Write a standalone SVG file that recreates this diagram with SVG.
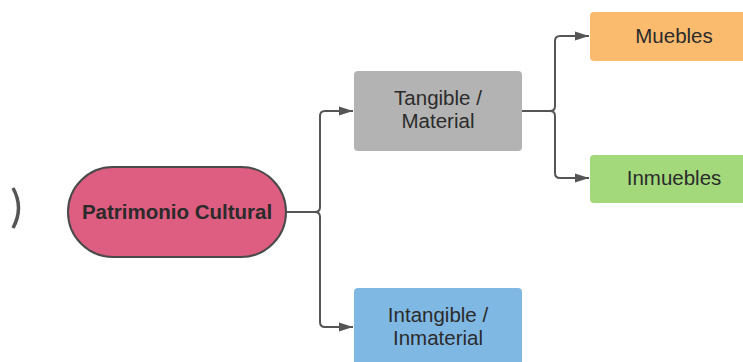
<svg xmlns="http://www.w3.org/2000/svg" width="743" height="362" viewBox="0 0 743 362">
<style>
.t{font-family:"Liberation Sans",Arial,sans-serif;font-size:20.5px;fill:#2b2b2b;text-anchor:middle;dominant-baseline:central}
.c{fill:none;stroke:#555;stroke-width:2}
.b{stroke:none}
</style>
<defs>
<marker id="a" viewBox="0 0 14 10" refX="14" refY="5" markerWidth="14" markerHeight="10" markerUnits="userSpaceOnUse" orient="auto"><path d="M0 0.5 L14 5 L0 9.5 Z" fill="#555"/></marker>
</defs>
<rect width="743" height="362" fill="#fff"/>
<g id="partial"><path d="M13 188 Q24 208 13 228" fill="none" stroke="#555" stroke-width="3.5"/></g>
<g id="connectors">
<path class="c" d="M286 212 H315 Q320 212 320 207 V116 Q320 111 325 111 H353" marker-end="url(#a)"/>
<path class="c" d="M315 212 Q320 212 320 217 V322 Q320 327 325 327 H353" marker-end="url(#a)"/>
<path class="c" d="M522 111 H550 Q555 111 555 106 V41 Q555 36 560 36 H589" marker-end="url(#a)"/>
<path class="c" d="M550 111 Q555 111 555 116 V173 Q555 178 560 178 H589" marker-end="url(#a)"/>
</g>
<g id="patrimonio"><rect x="68" y="167" width="218" height="90" rx="45" fill="#DD5E80" stroke="#4a4a4a" stroke-width="2"/><text class="t" x="177" y="211" font-weight="bold">Patrimonio Cultural</text></g>
<g id="tangible"><rect class="b" x="354" y="71" width="168" height="80" rx="4" fill="#B3B3B3"/><text class="t" x="438" y="97">Tangible /</text><text class="t" x="438" y="120">Material</text></g>
<g id="intangible"><rect class="b" x="354" y="288" width="168" height="80" rx="4" fill="#80B8E4"/><text class="t" x="438" y="314">Intangible /</text><text class="t" x="438" y="337">Inmaterial</text></g>
<g id="muebles"><rect class="b" x="590" y="12" width="160" height="49" rx="4" fill="#FBBB6E"/><text class="t" x="674" y="35">Muebles</text></g>
<g id="inmuebles"><rect class="b" x="590" y="155" width="160" height="48" rx="4" fill="#A3D97B"/><text class="t" x="674" y="177">Inmuebles</text></g>
</svg>
